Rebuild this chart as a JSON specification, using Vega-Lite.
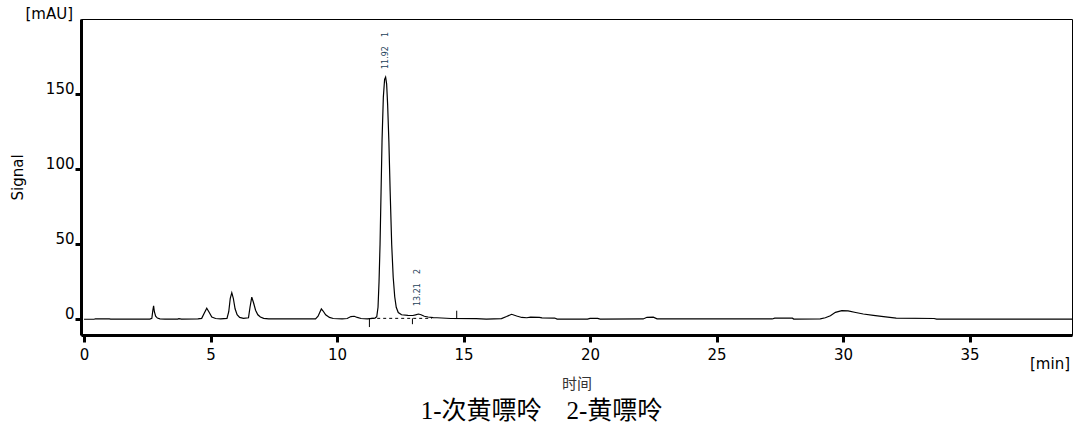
{
  "$schema": "https://vega.github.io/schema/vega-lite/v6.json",
  "width": 991,
  "height": 316,
  "autosize": {"type": "none"},
  "padding": {"left": 81, "top": 19, "right": 16, "bottom": 101},
  "background": "white",
  "title": {
    "text": "1-次黄嘌呤　2-黄嘌呤",
    "orient": "bottom",
    "anchor": "middle",
    "dx": -35,
    "font": "Liberation Serif, Noto Sans CJK SC",
    "fontSize": 25,
    "fontWeight": "normal",
    "color": "#000000",
    "offset": 8
  },
  "datasets": {
    "trace": [
      {"t": 0, "v": 0}, {"t": 0.4, "v": 0}, {"t": 0.45, "v": 0.3}, {"t": 1.0, "v": 0.3}, {"t": 1.05, "v": 0.1},
      {"t": 2.6, "v": 0.1}, {"t": 2.68, "v": 0.6}, {"t": 2.72, "v": 6}, {"t": 2.75, "v": 9}, {"t": 2.78, "v": 5},
      {"t": 2.83, "v": 2}, {"t": 2.9, "v": 0.8}, {"t": 3.0, "v": 0.3}, {"t": 3.2, "v": 0.1}, {"t": 3.7, "v": 0.1},
      {"t": 3.75, "v": 0.4}, {"t": 3.85, "v": 0.1}, {"t": 4.5, "v": 0.2}, {"t": 4.65, "v": 0.6}, {"t": 4.75, "v": 4},
      {"t": 4.85, "v": 7.3}, {"t": 4.95, "v": 4.5}, {"t": 5.05, "v": 1.5}, {"t": 5.2, "v": 0.5}, {"t": 5.4, "v": 0.3},
      {"t": 5.65, "v": 0.6}, {"t": 5.72, "v": 5}, {"t": 5.78, "v": 14}, {"t": 5.84, "v": 17.7}, {"t": 5.9, "v": 14},
      {"t": 5.97, "v": 7}, {"t": 6.05, "v": 3}, {"t": 6.15, "v": 1.2}, {"t": 6.3, "v": 0.6}, {"t": 6.5, "v": 1.0},
      {"t": 6.56, "v": 8}, {"t": 6.63, "v": 14.7}, {"t": 6.7, "v": 11}, {"t": 6.78, "v": 6}, {"t": 6.87, "v": 3},
      {"t": 6.97, "v": 1.5}, {"t": 7.1, "v": 0.6}, {"t": 7.3, "v": 0.3}, {"t": 8.5, "v": 0.2}, {"t": 9.15, "v": 0.3},
      {"t": 9.25, "v": 2}, {"t": 9.38, "v": 6.9}, {"t": 9.45, "v": 5.5}, {"t": 9.55, "v": 3}, {"t": 9.7, "v": 1.2},
      {"t": 9.85, "v": 0.5}, {"t": 10.2, "v": 0.3}, {"t": 10.4, "v": 0.5}, {"t": 10.55, "v": 1.8}, {"t": 10.68, "v": 2.0},
      {"t": 10.8, "v": 1.2}, {"t": 10.95, "v": 0.5}, {"t": 11.2, "v": 0.3}, {"t": 11.5, "v": 0.8}, {"t": 11.57, "v": 1.7},
      {"t": 11.62, "v": 8}, {"t": 11.66, "v": 25}, {"t": 11.7, "v": 50}, {"t": 11.74, "v": 85}, {"t": 11.78, "v": 120},
      {"t": 11.83, "v": 148}, {"t": 11.88, "v": 160}, {"t": 11.92, "v": 161.5}, {"t": 11.96, "v": 157}, {"t": 12.0, "v": 143},
      {"t": 12.05, "v": 118}, {"t": 12.1, "v": 85}, {"t": 12.16, "v": 50}, {"t": 12.22, "v": 28}, {"t": 12.28, "v": 15},
      {"t": 12.34, "v": 8}, {"t": 12.42, "v": 4.5}, {"t": 12.55, "v": 3}, {"t": 12.8, "v": 2.6}, {"t": 13.0, "v": 2.5},
      {"t": 13.1, "v": 2.9}, {"t": 13.22, "v": 3.5}, {"t": 13.32, "v": 3.0}, {"t": 13.45, "v": 2.0}, {"t": 13.6, "v": 1.5},
      {"t": 13.8, "v": 1.1}, {"t": 13.95, "v": 1.0}, {"t": 14.5, "v": 0.5}, {"t": 15.5, "v": 0.4}, {"t": 15.9, "v": 0.1},
      {"t": 16.5, "v": 0.4}, {"t": 16.7, "v": 1.8}, {"t": 16.9, "v": 3.3}, {"t": 17.1, "v": 2.2}, {"t": 17.3, "v": 1.2},
      {"t": 17.5, "v": 1.0}, {"t": 17.65, "v": 1.4}, {"t": 18.0, "v": 1.3}, {"t": 18.1, "v": 0.9}, {"t": 18.6, "v": 0.8},
      {"t": 18.7, "v": 0.1}, {"t": 19.9, "v": 0.1}, {"t": 20.0, "v": 0.6}, {"t": 20.3, "v": 0.6}, {"t": 20.4, "v": 0.1},
      {"t": 22.1, "v": 0.2}, {"t": 22.25, "v": 1.3}, {"t": 22.5, "v": 1.4}, {"t": 22.65, "v": 0.3}, {"t": 27.2, "v": 0.2},
      {"t": 27.3, "v": 0.7}, {"t": 28.0, "v": 0.7}, {"t": 28.05, "v": 0.1}, {"t": 29.1, "v": 0.3}, {"t": 29.3, "v": 1.0},
      {"t": 29.5, "v": 2.3}, {"t": 29.7, "v": 4.6}, {"t": 29.95, "v": 5.7}, {"t": 30.2, "v": 5.6}, {"t": 30.5, "v": 4.5},
      {"t": 30.8, "v": 3.5}, {"t": 31.2, "v": 2.6}, {"t": 31.6, "v": 1.8}, {"t": 32.1, "v": 0.7}, {"t": 33.6, "v": 0.5},
      {"t": 33.7, "v": 0.05}, {"t": 39.05, "v": 0.05}
    ],
    "peaks": [
      {"t": 11.92, "v": 161.5, "rt": "11.92", "id": "1"},
      {"t": 13.21, "v": 3.5, "rt": "13.21", "id": "2"}
    ],
    "events": [
      {"t": 11.28, "v1": 0.6, "v2": -5.2},
      {"t": 12.98, "v1": 0.6, "v2": -3.3},
      {"t": 14.73, "v1": 0.6, "v2": 5.7}
    ],
    "baseline": [
      {"t1": 11.35, "t2": 13.75, "v": 0.6}
    ]
  },
  "layer": [
    {
      "data": {"name": "trace"},
      "mark": {"type": "line", "color": "#000000", "strokeWidth": 1.2, "clip": true},
      "encoding": {
        "x": {
          "field": "t", "type": "quantitative",
          "scale": {"domain": [-0.12, 39.05], "nice": false, "zero": false},
          "axis": {
            "values": [0, 5, 10, 15, 20, 25, 30, 35],
            "title": "时间",
            "titleFont": "Noto Sans CJK SC",
            "titleFontSize": 15,
            "titleFontWeight": "normal",
            "titleColor": "#333333",
            "titleBaseline": "middle",
            "titleY": 48
          }
        },
        "y": {
          "field": "v", "type": "quantitative",
          "scale": {"domain": [-10.5, 200.2], "nice": false, "zero": false},
          "axis": {
            "values": [0, 50, 100, 150],
            "title": "Signal",
            "titleX": -56,
            "labelBaseline": "alphabetic",
            "labelOffset": -1
          }
        }
      }
    },
    {
      "data": {"name": "baseline"},
      "mark": {"type": "rule", "color": "#000000", "strokeWidth": 1, "strokeDash": [3, 3]},
      "encoding": {
        "x": {"field": "t1", "type": "quantitative"},
        "x2": {"field": "t2"},
        "y": {"field": "v", "type": "quantitative"}
      }
    },
    {
      "data": {"name": "events"},
      "mark": {"type": "rule", "color": "#000000", "strokeWidth": 1},
      "encoding": {
        "x": {"field": "t", "type": "quantitative"},
        "y": {"field": "v1", "type": "quantitative"},
        "y2": {"field": "v2"}
      }
    },
    {
      "data": {"name": "peaks"},
      "mark": {"type": "text", "angle": 270, "align": "left", "baseline": "middle", "dx": 8, "font": "DejaVu Sans", "fontSize": 8, "color": "#23425a"},
      "encoding": {
        "x": {"field": "t", "type": "quantitative"},
        "y": {"field": "v", "type": "quantitative"},
        "text": {"field": "rt"}
      }
    },
    {
      "data": {"name": "peaks"},
      "mark": {"type": "text", "angle": 270, "align": "left", "baseline": "middle", "dx": 40, "font": "DejaVu Sans", "fontSize": 8, "color": "#23425a"},
      "encoding": {
        "x": {"field": "t", "type": "quantitative"},
        "y": {"field": "v", "type": "quantitative"},
        "text": {"field": "id"}
      }
    },
    {
      "data": {"values": [{"label": "[mAU]"}]},
      "mark": {"type": "text", "align": "right", "baseline": "middle", "dx": -8, "dy": -5, "font": "DejaVu Sans", "fontSize": 15, "color": "#000000"},
      "encoding": {
        "x": {"datum": -0.12, "type": "quantitative"},
        "y": {"datum": 200.2, "type": "quantitative"},
        "text": {"field": "label"}
      }
    },
    {
      "data": {"values": [{"label": "[min]"}]},
      "mark": {"type": "text", "align": "right", "baseline": "middle", "dx": -2, "dy": 29, "font": "DejaVu Sans", "fontSize": 15, "color": "#000000"},
      "encoding": {
        "x": {"datum": 39.05, "type": "quantitative"},
        "y": {"datum": -10.5, "type": "quantitative"},
        "text": {"field": "label"}
      }
    }
  ],
  "config": {
    "view": {"stroke": "#000000", "strokeWidth": 1},
    "axis": {
      "grid": false,
      "domainColor": "#000000",
      "domainWidth": 3,
      "tickColor": "#000000",
      "tickWidth": 3,
      "tickSize": 7,
      "labelFont": "DejaVu Sans",
      "labelFontSize": 15,
      "labelColor": "#000000",
      "labelPadding": 4,
      "titleFont": "DejaVu Sans",
      "titleFontSize": 15,
      "titleFontWeight": "normal",
      "titleColor": "#000000"
    },
    "axisY": {"labelPadding": 1, "tickSize": 6},
    "axisX": {"labelPadding": 5}
  }
}
